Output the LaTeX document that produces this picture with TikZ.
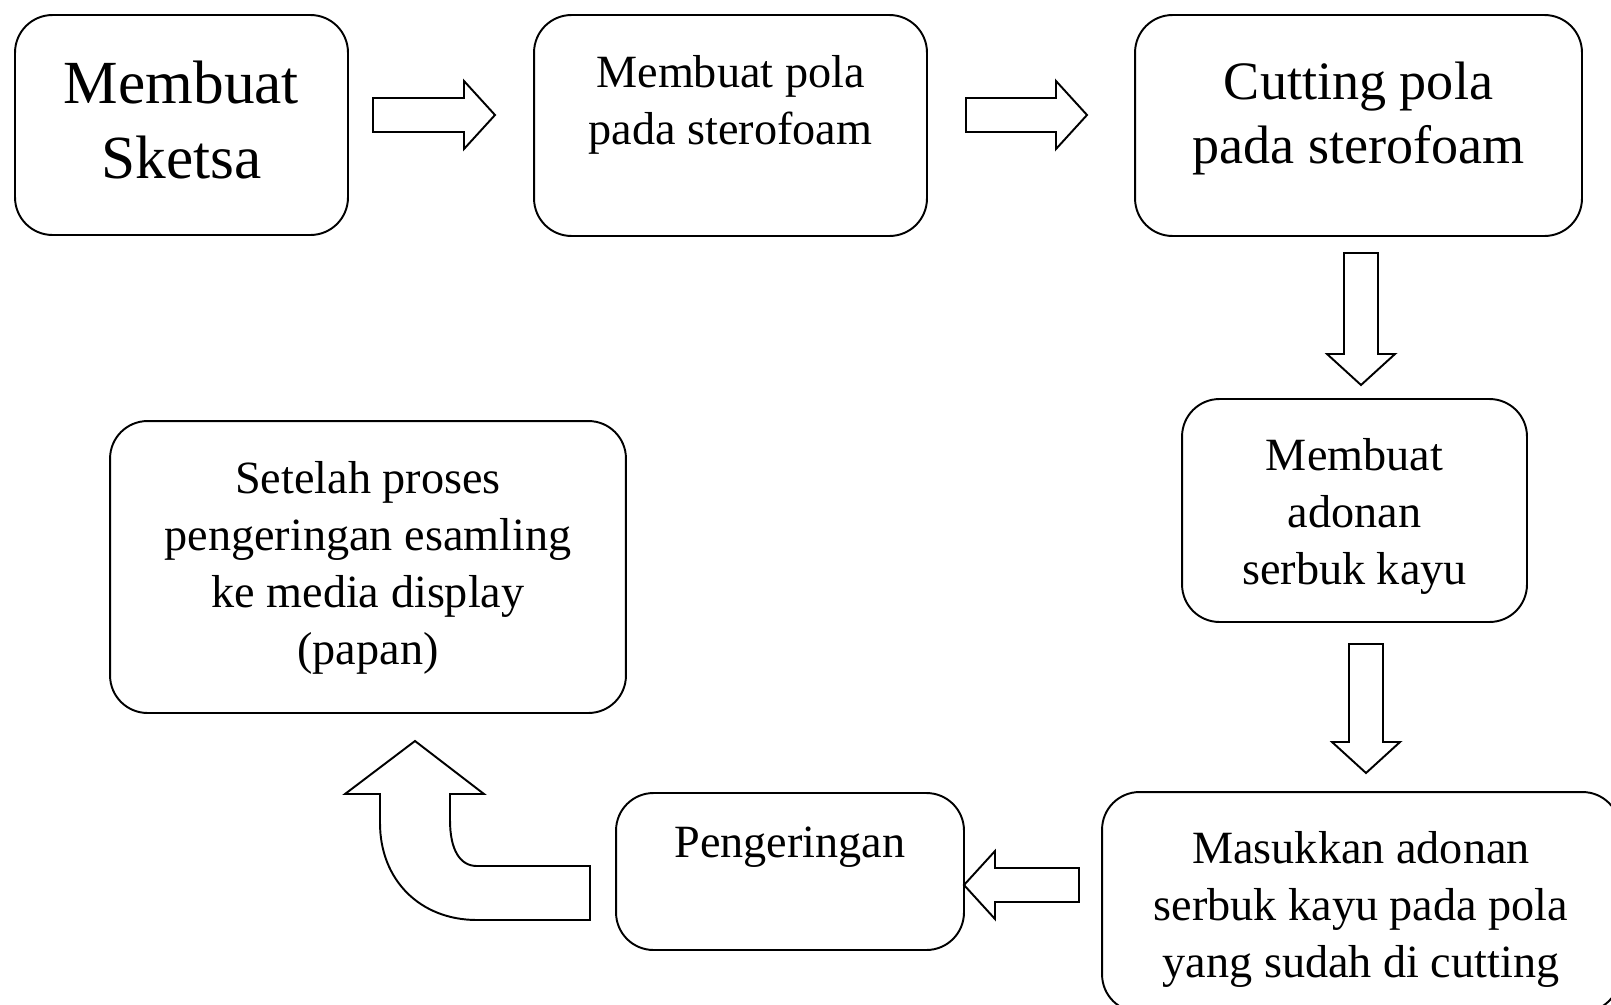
\documentclass[tikz,border=0pt]{standalone}
\usepackage{fontspec}
\setmainfont{Liberation Serif}
\usetikzlibrary{calc}

\newcommand{\boxtext}[4]{\parbox[c][#2][t]{#1}{\centering\vspace*{#3}#4}}
\newcommand{\bigfont}{\fontsize{34.9}{42.7}\selectfont}
\newcommand{\cutfont}{\fontsize{30.8}{36.8}\selectfont}
\newcommand{\midfont}{\fontsize{26.3}{32.6}\selectfont}

\tikzset{
  stepbox/.style={draw, line width=1.1pt, rounded corners=0.75cm, inner sep=0pt, outer sep=0pt},
  blockarrow/.style={draw, line width=1.1pt, to path={
      ($(\tikztostart)!0.34cm!90:(\tikztotarget)$)
      -- ($(\tikztotarget)!0.62cm!(\tikztostart)!0.34cm!-90:(\tikztostart)$)
      -- ($(\tikztotarget)!0.62cm!(\tikztostart)!0.68cm!-90:(\tikztostart)$)
      -- (\tikztotarget)
      -- ($(\tikztotarget)!0.62cm!(\tikztostart)!0.68cm!90:(\tikztostart)$)
      -- ($(\tikztotarget)!0.62cm!(\tikztostart)!0.34cm!90:(\tikztostart)$)
      -- ($(\tikztostart)!0.34cm!-90:(\tikztotarget)$) -- cycle}}
}

\begin{document}
\begin{tikzpicture}[x=0.02cm, y=-0.02cm]
        \useasboundingbox (0,0) rectangle (1611,1004);
        \clip (0,0) rectangle (1611,1004);

        % Steps
        \node[stepbox, font=\bigfont] (sketch) at (181.5,125) {\boxtext{6.66cm}{4.4cm}{0.92cm}{Membuat\\Sketsa}};
        \node[stepbox, font=\midfont] (pattern) at (730.5,125.5) {\boxtext{7.86cm}{4.42cm}{0.8cm}{Membuat pola\\pada sterofoam}};
        \node[stepbox, font=\cutfont] (cutting) at (1358.5,125.5) {\boxtext{8.94cm}{4.42cm}{0.93cm}{Cutting pola\\pada sterofoam}};
        \node[stepbox, font=\midfont] (mixture) at (1354.5,510.5) {\boxtext{6.9cm}{4.46cm}{0.78cm}{Membuat\\adonan\\serbuk kayu}};
        \node[stepbox, font=\midfont] (filling) at (1361,902) {\boxtext{10.36cm}{4.4cm}{0.78cm}{Masukkan adonan\\serbuk kayu pada pola\\yang sudah di cutting}};
        \node[stepbox, font=\midfont] (drying) at (790,871.5) {\boxtext{6.96cm}{3.14cm}{0.68cm}{Pengeringan}};
        \node[stepbox, font=\midfont] (display) at (368,567) {\boxtext{10.32cm}{5.84cm}{0.8cm}{Setelah proses\\pengeringan esamling\\ke media display\\(papan)}};

        % Arrows
        \coordinate (a1s) at (373,115);
        \coordinate (a1e) at (495,115);
        \coordinate (a2s) at (966,115);
        \coordinate (a2e) at (1087,115);
        \coordinate (a3s) at (1361,253);
        \coordinate (a3e) at (1361,385);
        \coordinate (a4s) at (1366,644);
        \coordinate (a4e) at (1366,773);
        \coordinate (a5s) at (1079,885);
        \coordinate (a5e) at (964,885);
        \draw[blockarrow] (a1s) to (a1e);
        \draw[blockarrow] (a2s) to (a2e);
        \draw[blockarrow] (a3s) to (a3e);
        \draw[blockarrow] (a4s) to (a4e);
        \draw[blockarrow] (a5s) to (a5e);

        % Bent arrow
        \draw[line width=1.1pt] (590,866) -- (477,866) .. controls (460,866) and (450,850) .. (450,820)
            -- (450,794) -- (484,794) -- (415,741) -- (345,794) -- (380,794) -- (380,823)
            .. controls (380,880) and (420,920) .. (477,920) -- (590,920) -- cycle;
    \end{tikzpicture}
\end{document}
